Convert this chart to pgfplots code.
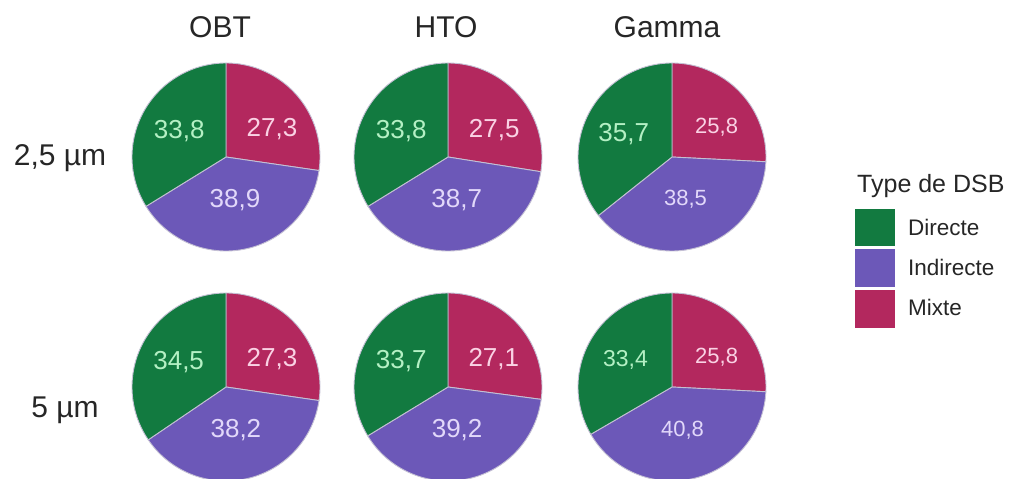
\documentclass[border=0pt]{standalone}
\usepackage{pgfplots}
\pgfplotsset{compat=1.18}
\usepackage{fontspec}
\setmainfont{Liberation Sans}
\definecolor{cD}{HTML}{127A40}
\definecolor{cI}{HTML}{6C58B8}
\definecolor{cM}{HTML}{B3285E}
\definecolor{tD}{HTML}{B4F0C4}
\definecolor{tI}{HTML}{E2D8FA}
\definecolor{tM}{HTML}{FAD2E4}
\definecolor{edge}{HTML}{C4C0D4}
\def\R{94}
% \pie{cx}{cy}{Directe}{Indirecte}{Mixte}{size D}{size I,M}
\newcommand\pie[7]{%
 \pgfmathsetmacro\aM{90-3.6*#5}%
 \pgfmathsetmacro\aI{\aM-3.6*#4}%
 \pgfmathsetmacro\aD{\aI-3.6*#3}%
 \pgfmathsetmacro\lMx{#1+0.57*\R*cos((90+\aM)/2-10)}%
 \pgfmathsetmacro\lMy{#2-0.57*\R*sin((90+\aM)/2-10)}%
 \pgfmathsetmacro\lIx{#1+0.47*\R*cos((\aM+\aI)/2)}%
 \pgfmathsetmacro\lIy{#2-0.47*\R*sin((\aM+\aI)/2)}%
 \pgfmathsetmacro\lDx{#1+0.57*\R*cos((\aI+\aD)/2)}%
 \pgfmathsetmacro\lDy{#2-0.57*\R*sin((\aI+\aD)/2)}%
 \edef\tmp{%
  \noexpand\addplot[fill=cM,draw=edge,line width=0.9pt,domain=\aM:90,samples=60,variable=\noexpand\t]
   ({#1+\R*cos(\noexpand\t)},{#2-\R*sin(\noexpand\t)}) -- (axis cs:#1,#2) -- cycle;
  \noexpand\addplot[fill=cI,draw=edge,line width=0.9pt,domain=\aI:\aM,samples=80,variable=\noexpand\t]
   ({#1+\R*cos(\noexpand\t)},{#2-\R*sin(\noexpand\t)}) -- (axis cs:#1,#2) -- cycle;
  \noexpand\addplot[fill=cD,draw=edge,line width=0.9pt,domain=\aD:\aI,samples=80,variable=\noexpand\t]
   ({#1+\R*cos(\noexpand\t)},{#2-\R*sin(\noexpand\t)}) -- (axis cs:#1,#2) -- cycle;
  \noexpand\addplot[draw=none,mark=none,nodes near coords,point meta=explicit,nodes near coords align={center},
   every node near coord/.append style={text=tM,font=\noexpand\fontsize{#7}{#7}\noexpand\selectfont}]
   coordinates {(\lMx,\lMy) [#5]};
  \noexpand\addplot[draw=none,mark=none,nodes near coords,point meta=explicit,nodes near coords align={center},
   every node near coord/.append style={text=tI,font=\noexpand\fontsize{#7}{#7}\noexpand\selectfont}]
   coordinates {(\lIx,\lIy) [#4]};
  \noexpand\addplot[draw=none,mark=none,nodes near coords,point meta=explicit,nodes near coords align={center},
   every node near coord/.append style={text=tD,font=\noexpand\fontsize{#6}{#6}\noexpand\selectfont}]
   coordinates {(\lDx,\lDy) [#3]};
 }\tmp
}
\begin{document}
\begin{tikzpicture}
\useasboundingbox (0,0) rectangle (1013pt,479pt);
\begin{axis}[at={(0,0)},anchor=south west,x=1pt,y=1pt,xmin=0,xmax=1013,ymin=0,ymax=479,
  y dir=reverse,hide axis,clip=false,
  /pgf/number format/.cd,use comma,fixed,fixed zerofill,precision=1,assume math mode=true]
% row 2.5 um
\pie{226}{157}{33.8}{38.9}{27.3}{26}{26}
\pie{448}{157}{33.8}{38.7}{27.5}{26}{26}
\pie{672}{157}{35.7}{38.5}{25.8}{26}{22}
% row 5 um
\pie{226}{387}{34.5}{38.2}{27.3}{26}{26}
\pie{448}{387}{33.7}{39.2}{27.1}{26}{26}
\pie{672}{387}{33.4}{40.8}{25.8}{23}{22}
% legend boxes
\addplot[fill=cD,draw=none] coordinates {(855,209) (895,209) (895,246) (855,246)} -- cycle;
\addplot[fill=cI,draw=none] coordinates {(855,249) (895,249) (895,287) (855,287)} -- cycle;
\addplot[fill=cM,draw=none] coordinates {(855,290) (895,290) (895,328) (855,328)} -- cycle;
% texts
\node[anchor=base,font=\fontsize{30}{30}\selectfont,text=black!85] at (axis cs:220,37) {OBT};
\node[anchor=base,font=\fontsize{30}{30}\selectfont,text=black!85] at (axis cs:446,37) {HTO};
\node[anchor=base,font=\fontsize{30}{30}\selectfont,text=black!85] at (axis cs:667,37) {Gamma};
\node[anchor=base,font=\fontsize{30}{30}\selectfont,text=black!85] at (axis cs:60,165) {2,5 µm};
\node[anchor=base,font=\fontsize{30}{30}\selectfont,text=black!85] at (axis cs:65,417) {5 µm};
\node[anchor=base west,inner sep=0pt,font=\fontsize{25}{25}\selectfont,text=black!85] at (axis cs:857,192) {Type de DSB};
\node[anchor=base west,inner sep=0pt,font=\fontsize{22.5}{22.5}\selectfont,text=black!85] at (axis cs:908,235) {Directe};
\node[anchor=base west,inner sep=0pt,font=\fontsize{22.5}{22.5}\selectfont,text=black!85] at (axis cs:908,275) {Indirecte};
\node[anchor=base west,inner sep=0pt,font=\fontsize{22.5}{22.5}\selectfont,text=black!85] at (axis cs:908,315) {Mixte};
\end{axis}
\end{tikzpicture}
\end{document}
